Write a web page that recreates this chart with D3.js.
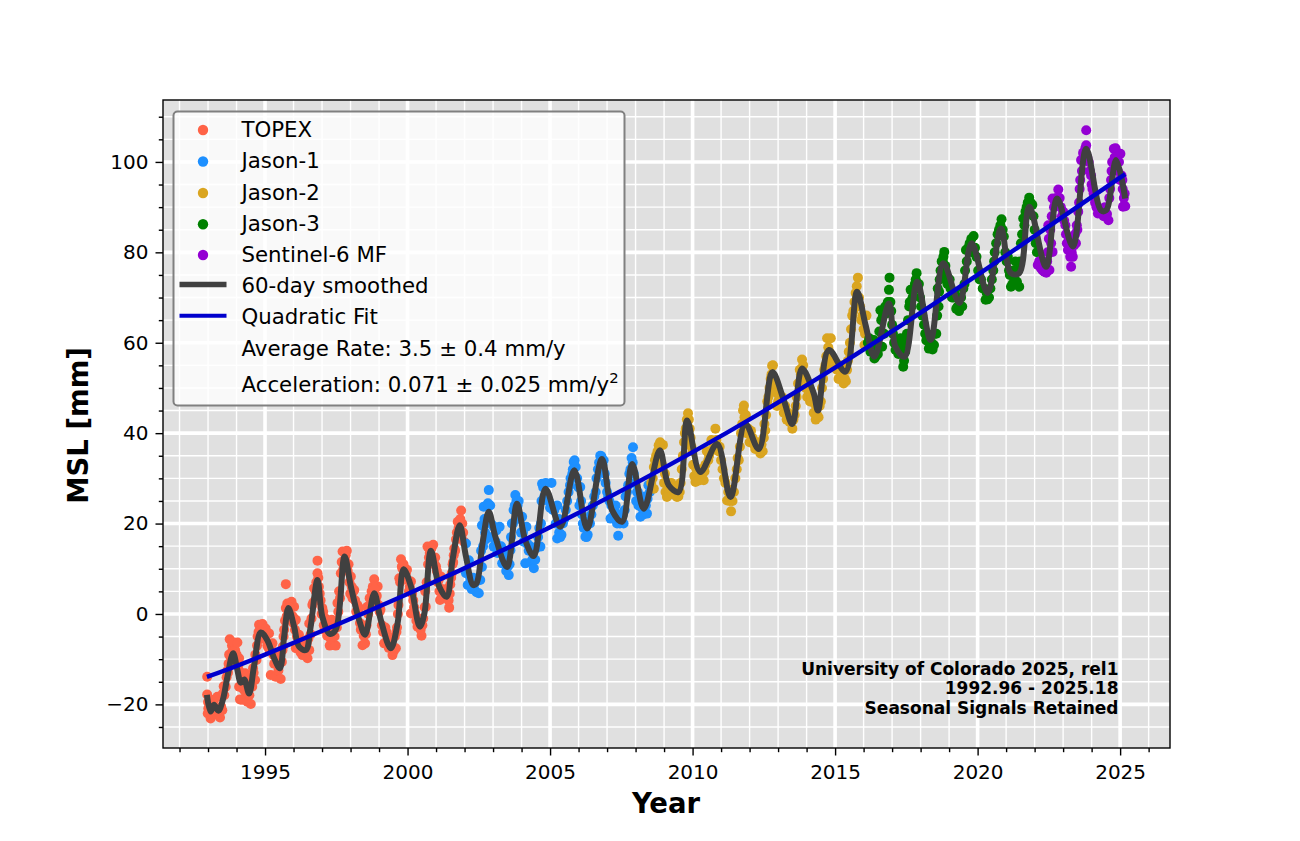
<!DOCTYPE html>
<html>
<head>
<meta charset="utf-8">
<title>Global mean sea level</title>
<script src="https://cdnjs.cloudflare.com/ajax/libs/d3/7.8.5/d3.min.js"></script>
<style>
  body { margin: 0; background: #fff; }
  text { font-family: "DejaVu Sans", sans-serif; fill: #000; }
</style>
</head>
<body>
<svg id="chart" width="1300" height="841"></svg>
<script>
// values: [year, msl in mm]
var topex = [[1992.97,-13.9],[1992.97,-17.8],[1993,-19.5],[1993.01,-20.9],[1993.05,-21.8],[1993.09,-23.1],[1993.12,-22],[1993.17,-20.5],[1993.21,-19],[1993.25,-21],[1993.29,-22.2],[1993.33,-18.3],[1993.37,-21],[1993.42,-22.9],[1993.46,-20.5],[1993.5,-21.3],[1993.52,-17.6],[1993.57,-18],[1993.62,-16.1],[1993.65,-14],[1993.68,-12.5],[1993.72,-11],[1993.76,-5.6],[1993.8,-8.7],[1993.84,-7],[1993.88,-6.3],[1993.92,-9],[1993.95,-8],[1993.99,-11],[1994.03,-6.3],[1994.06,-11.5],[1994.09,-9.8],[1994.09,-16.1],[1994.12,-18.9],[1994.16,-13],[1994.2,-19],[1994.24,-15],[1994.3,-13.1],[1994.33,-16.5],[1994.38,-19.4],[1994.42,-16],[1994.5,-19.9],[1994.52,-14.5],[1994.55,-16.1],[1994.6,-13],[1994.65,-14.6],[1994.66,-9],[1994.7,-10.2],[1994.74,-5],[1994.79,-2.4],[1994.83,-3.5],[1994.87,-5.5],[1994.91,-2.2],[1994.96,-4.5],[1995.02,-3.2],[1995.08,-7],[1995.14,-4.3],[1995.2,-13.5],[1995.22,-8],[1995.26,-6.5],[1995.32,-11],[1995.37,-13.9],[1995.42,-9.5],[1995.47,-12.5],[1995.55,-14.4],[1995.59,-10.6],[1995.63,-7.2],[1995.67,-3.5],[1995.7,-1.5],[1995.73,6.6],[1995.73,1.3],[1995.78,2.3],[1995.83,0.5],[1995.88,2.2],[1995.93,2.7],[1995.97,-0.5],[1996.02,1.6],[1996.08,-1.3],[1996.12,-5],[1996.19,-4.6],[1996.08,-7.6],[1996.25,-8.5],[1996.31,-9.1],[1996.38,-7],[1996.49,-9.8],[1996.55,-8],[1996.55,-2.1],[1996.6,-4.5],[1996.66,2],[1996.72,5.7],[1996.76,3],[1996.8,7],[1996.84,9],[1996.84,11.8],[1996.89,6],[1996.95,3],[1997.01,1.3],[1997.06,-2.5],[1997.12,-1],[1997.18,-4.8],[1997.27,-7],[1997.34,-1.3],[1997.4,-3],[1997.48,-7],[1997.44,-5],[1997.5,-1.5],[1997.54,2.4],[1997.6,5],[1997.66,9],[1997.69,11.5],[1997.72,13.8],[1997.8,12],[1997.87,14],[1997.9,9.5],[1997.96,7],[1998.01,8.3],[1998.07,3.5],[1998.13,5.3],[1998.2,0.5],[1998.3,1.3],[1998.36,-3.5],[1998.42,-6.9],[1998.46,-4.8],[1998.51,-6.5],[1998.56,-2.5],[1998.59,1.6],[1998.67,3.5],[1998.74,5],[1998.83,7.7],[1998.88,3],[1998.95,6.1],[1999.02,0.5],[1999.1,-2.5],[1999.18,-6.5],[1999.26,-4],[1999.34,-7.5],[1999.41,-6],[1999.47,-9.1],[1999.52,-8.2],[1999.59,-7.6],[1999.63,-3],[1999.68,2],[1999.71,7.9],[1999.77,12.1],[1999.82,10],[1999.9,8.5],[1999.98,9.8],[2000.05,5],[2000.12,7.2],[2000.12,0.1],[2000.2,3],[2000.27,0],[2000.35,-2.8],[2000.42,-1.5],[2000.49,-4.8],[2000.55,-1],[2000.64,1.6],[2000.67,7],[2000.7,14.9],[2000.78,13.5],[2000.9,15.3],[2000.95,11],[2001,10.5],[2001.06,7],[2001.14,3.1],[2001.17,8.3],[2001.25,5],[2001.33,4.5],[2001.46,1.4],[2001.41,3.5],[2001.5,6.5],[2001.55,9],[2001.6,11.5],[2001.64,14.5],[2001.7,16.5],[2001.76,20.4],[2001.81,18],[2001.88,22.9],[2001.92,20],[1992.99,-22],
  [1993.55,-16],[1993.7,-13],[1993.74,-9],[1993.86,-9],[1994,-9],[1994.14,-16],[1994.22,-16.5],[1994.28,-17],[1994.35,-15],[1994.45,-18],[1994.47,-15.5],[1994.58,-12],[1994.72,-7],[1994.77,-4],[1994.93,-4],[1995,-5.5],[1995.12,-7.5],[1995.18,-7.5],[1995.29,-9],[1995.4,-11],[1995.5,-10.5],[1995.61,-8],[1995.65,-5],[1995.76,-0.5],[1995.86,1.5],[1995.99,-2],[1996.05,-3.5],[1996.15,-7],[1996.22,-6],[1996.28,-7.5],[1996.34,-8.5],[1996.42,-9],[1996.46,-6.5],[1996.52,-5.5],[1996.63,-1],[1996.69,2.5],[1996.78,5],[1996.87,8],[1996.92,4.5],[1996.98,0],[1997.04,0.5],[1997.09,-3.5],[1997.15,-3],[1997.22,-3],[1997.3,-5.5],[1997.37,-5],[1997.52,-3],[1997.57,0.5],[1997.63,3.5],[1997.75,10],[1997.83,13],[1997.93,11],[1997.99,4.5],[1998.04,6],[1998.1,5],[1998.16,3],[1998.24,2],[1998.33,-2],[1998.39,-3],[1998.48,-4],[1998.54,-4.5],[1998.62,0],[1998.7,1.5],[1998.78,6],[1998.85,5.5],[1998.92,4],[1998.98,2],[1999.05,1],[1999.14,-4],[1999.22,-3],[1999.3,-5.5],[1999.38,-6.5],[1999.44,-7.5],[1999.55,-5],[1999.61,-4],[1999.66,0],[1999.74,7],[1999.8,10.5],[1999.86,11],[1999.94,9],[2000.01,7.5],[2000.08,6],[2000.16,4.5],[2000.23,1.5],[2000.31,-1.5],[2000.38,-1],[2000.46,-3.5],[2000.52,-2.5],[2000.6,1.5],[2000.62,5],[2000.72,11],[2000.75,12.5],[2000.84,14.5],[2000.87,12.5],[2000.97,12.5],[2001.03,9.5],[2001.09,7.5],[2001.12,5],[2001.2,5.5],[2001.29,4.5],[2001.37,5.5],[2001.44,3],[2001.48,4.5],[2001.53,8],[2001.58,11],[2001.62,13],[2001.67,14],[2001.73,18],[2001.79,19],[2001.85,21],[2001.95,18],[2001.98,16]];
var jason1 = [[2002.05,15.6],[2002.05,9],[2002.11,6.4],[2002.15,11.9],[2002.2,8],[2002.25,5.5],[2002.33,5.6],[2002.42,4.8],[2002.5,4.6],[2002.55,7.5],[2002.61,10.4],[2002.61,19.6],[2002.65,15],[2002.67,23.7],[2002.72,18],[2002.78,21],[2002.85,27.4],[2002.85,24],[2002.92,20],[2003,19.5],[2003.02,14.9],[2003.09,16],[2003.15,13.5],[2003.23,19.3],[2003.28,15],[2003.32,11.2],[2003.4,12.5],[2003.46,9.5],[2003.55,8.6],[2003.58,11],[2003.61,14.1],[2003.66,20],[2003.72,23],[2003.78,26.3],[2003.86,24],[2003.95,21],[2004.02,21.5],[2004.08,16],[2004.13,11.2],[2004.17,19.3],[2004.25,14],[2004.33,11.5],[2004.43,10.1],[2004.5,14.5],[2004.58,17],[2004.66,14.9],[2004.68,20],[2004.72,28.8],[2004.8,26],[2004.9,26],[2005.05,29],[2005.1,23],[2005.2,20],[2005.25,24],[2005.25,16.7],[2005.32,18],[2005.4,17.5],[2005.5,21],[2005.6,25],[2005.7,28.5],[2005.78,31],[2005.83,33.6],[2005.9,32.5],[2006,28],[2006.06,28.1],[2006.12,22],[2006.18,19],[2006.24,17.1],[2006.32,17.5],[2006.4,20],[2006.5,24],[2006.6,27],[2006.68,32],[2006.8,34.9],[2006.88,34],[2006.95,29],[2007,27],[2007.08,25],[2007.12,21.1],[2007.2,21.5],[2007.3,24],[2007.39,17.3],[2007.45,20],[2007.5,20.8],[2007.58,20],[2007.65,26],[2007.74,28.5],[2007.82,32],[2007.91,36.9],[2007.9,33.5],[2007.97,29],[2008.05,27],[2008.1,24],[2008.17,21.5],[2008.28,22],[2008.4,22.2],[2008.33,26],[2008.45,28.5],
  [2002.3,8],[2002.38,7],[2002.45,7.5],[2002.58,14],[2002.7,21],[2002.74,16.5],[2002.82,24.5],[2002.9,24],[2002.97,17],[2003.06,19],[2003.12,18.5],[2003.2,15],[2003.35,14],[2003.43,11],[2003.52,10.5],[2003.63,17],[2003.7,20],[2003.76,24],[2003.82,25],[2003.9,25],[2003.98,18],[2004.05,18],[2004.2,15.5],[2004.3,15],[2004.38,12],[2004.48,12],[2004.55,15],[2004.62,19],[2004.7,25],[2004.76,28],[2004.85,29],[2004.95,25],[2005,23.5],[2005.15,23],[2005.3,21],[2005.36,17],[2005.45,20],[2005.55,23],[2005.65,27],[2005.72,30],[2005.8,32],[2005.86,34],[2005.95,30],[2006.03,24],[2006.09,25],[2006.15,20],[2006.22,20],[2006.28,17],[2006.36,20.5],[2006.45,22],[2006.55,26],[2006.63,30],[2006.72,33.5],[2006.76,35],[2006.84,33],[2006.92,31],[2007.04,26],[2007.15,24],[2007.25,23],[2007.35,20],[2007.42,22],[2007.55,22],[2007.62,23],[2007.7,27],[2007.78,31],[2007.86,34.5],[2007.94,31],[2008.02,25],[2008.08,27],[2008.14,25],[2008.22,23.5],[2008.36,24],[2008.42,25.5],[2008.5,27]];
var jason2 = [[2008.55,29],[2008.64,27.7],[2008.64,32.5],[2008.72,35],[2008.81,37.3],[2008.96,37.4],[2008.92,33],[2009,29],[2009.05,27],[2009.1,25.9],[2009.2,27.5],[2009.3,26.5],[2009.45,25.9],[2009.55,27],[2009.62,32],[2009.7,38],[2009.76,41],[2009.84,44.4],[2009.9,41],[2009.96,37],[2010.02,33],[2010.1,29.2],[2010.17,31],[2010.25,30],[2010.39,29.6],[2010.45,33],[2010.55,34],[2010.62,36],[2010.72,38],[2010.8,41],[2010.9,36],[2011,34],[2011.1,30],[2011.21,25.1],[2011.3,25],[2011.35,22.7],[2011.45,27],[2011.55,32],[2011.62,34],[2011.7,40],[2011.8,46.1],[2011.82,43.5],[2011.95,41],[2012.05,40.5],[2012.15,37.5],[2012.25,37],[2012.32,36.2],[2012.42,37.5],[2012.5,39],[2012.55,40.6],[2012.62,47],[2012.7,50],[2012.79,54.9],[2012.84,52],[2012.92,49],[2013,47],[2013.08,46.5],[2013.2,44.5],[2013.3,43],[2013.4,42.5],[2013.5,41],[2013.58,44],[2013.65,48],[2013.76,54],[2013.84,56.3],[2013.93,52],[2014.02,48],[2014.12,47],[2014.25,44.5],[2014.32,43],[2014.42,43.5],[2014.5,47],[2014.58,52],[2014.66,55],[2014.72,61],[2014.85,61],[2014.92,56],[2015.02,55],[2015.12,52],[2015.22,53],[2015.3,51],[2015.38,51.5],[2015.45,56],[2015.52,60],[2015.6,66],[2015.68,69],[2015.76,72.5],[2015.8,74.4],[2015.84,70],[2015.92,65],[2016,63],[2016.03,59.5],[2016.1,66],
  [2008.6,30],[2008.68,34],[2008.77,36],[2008.86,38],[2009.03,31],[2009.13,28],[2009.25,29],[2009.35,27],[2009.4,28],[2009.5,26],[2009.58,29],[2009.66,35],[2009.73,40],[2009.8,43],[2009.87,43],[2009.93,39],[2010,36],[2010.06,30.5],[2010.13,32],[2010.2,29.5],[2010.3,32],[2010.35,31],[2010.42,31.5],[2010.5,36],[2010.58,35],[2010.66,38.5],[2010.76,37],[2010.84,38.5],[2010.95,37],[2011.05,32],[2011.15,29],[2011.25,27],[2011.33,27.5],[2011.4,25],[2011.5,30],[2011.58,34.5],[2011.66,37],[2011.74,42],[2011.77,45],[2011.87,44],[2011.9,40],[2012,38],[2012.1,39],[2012.2,36.5],[2012.28,38],[2012.38,35.5],[2012.46,36],[2012.52,42],[2012.58,44],[2012.66,48],[2012.74,52],[2012.77,53],[2012.82,55],[2012.88,51],[2012.96,46],[2013.04,48],[2013.14,48],[2013.25,46],[2013.35,44.5],[2013.45,44],[2013.54,43],[2013.62,46],[2013.7,51],[2013.8,53],[2013.88,55],[2013.97,50],[2014.08,49],[2014.18,48],[2014.28,46.5],[2014.37,44],[2014.46,46],[2014.54,50],[2014.62,54],[2014.69,57],[2014.76,59],[2014.8,58],[2014.88,56.5],[2014.97,54.5],[2015.07,54],[2015.17,54],[2015.26,55],[2015.34,52],[2015.42,54],[2015.48,58],[2015.56,63],[2015.64,67],[2015.72,71],[2015.78,70],[2015.88,68],[2015.96,66],[2016.05,62]];
var jason3 = [[2016.2,61],[2016.28,58.5],[2016.36,60.6],[2016.38,56.5],[2016.5,57.5],[2016.59,67.2],[2016.65,59.1],[2016.72,62],[2016.8,66.5],[2016.85,69],[2016.89,71.7],[2016.91,74.4],[2016.97,67],[2017.03,62],[2017.12,58.4],[2017.22,57.5],[2017.3,61],[2017.39,54.7],[2017.46,58],[2017.52,62],[2017.6,68],[2017.65,71.7],[2017.72,70],[2017.8,73],[2017.86,75.4],[2017.94,73],[2018.02,68],[2018.12,64],[2018.2,60.5],[2018.29,58.7],[2018.38,60],[2018.47,59.5],[2018.55,62],[2018.6,72],[2018.65,71.3],[2018.7,76],[2018.78,78],[2018.83,80.1],[2018.9,75],[2018.98,74],[2019.05,72],[2019.15,70],[2019.3,68],[2019.42,70],[2019.5,72],[2019.56,76],[2019.59,80.5],[2019.72,82],[2019.86,83.6],[2019.96,79],[2020.07,74],[2020.18,72],[2020.28,69.5],[2020.35,69.6],[2020.45,72],[2020.55,76],[2020.6,80],[2020.7,84],[2020.84,87.3],[2020.92,83.5],[2021.02,78],[2021.1,76],[2021.17,72.4],[2021.3,74],[2021.33,78],[2021.46,72.4],[2021.52,82],[2021.6,87.5],[2021.68,89],[2021.81,92.1],[2021.92,90.5],[2022,85],[2022.08,80],
  [2016.15,60],[2016.24,58],[2016.32,58],[2016.43,57],[2016.47,59.5],[2016.55,62.5],[2016.62,65],[2016.68,66],[2016.76,68],[2016.82,68],[2016.94,69],[2017,64],[2017.07,60],[2017.16,60],[2017.26,59.5],[2017.34,59],[2017.42,56],[2017.49,60],[2017.56,65],[2017.62,69],[2017.68,68],[2017.76,72],[2017.83,74],[2017.9,72],[2017.98,70],[2018.06,66],[2018.16,62],[2018.24,61],[2018.33,59],[2018.42,58.5],[2018.5,62],[2018.58,66],[2018.63,68],[2018.67,74],[2018.74,78],[2018.8,79],[2018.87,77],[2018.94,73],[2019.02,74],[2019.1,70],[2019.2,71],[2019.25,67.5],[2019.35,67],[2019.46,68],[2019.54,73],[2019.62,78],[2019.67,81],[2019.78,83],[2019.82,80],[2019.91,81],[2020.02,76],[2020.12,74],[2020.23,72],[2020.32,71],[2020.4,70],[2020.5,74],[2020.58,78],[2020.65,82],[2020.75,85],[2020.8,86],[2020.88,85],[2020.97,80],[2021.06,79],[2021.13,75],[2021.22,73],[2021.26,76],[2021.38,73.5],[2021.42,76],[2021.49,78],[2021.56,84],[2021.64,86],[2021.72,90],[2021.76,91],[2021.86,91],[2021.96,88],[2022.04,82]];
var sentinel6 = [[2022.11,77.2],[2022.28,76],[2022.34,75.7],[2022.44,78],[2022.52,76.1],[2022.58,82],[2022.63,80.1],[2022.48,86],[2022.63,91.9],[2022.72,91],[2022.83,93.9],[2022.92,90],[2023,89],[2023.08,86],[2023.13,82],[2023.22,83],[2023.28,76.8],[2023.34,79],[2023.42,84],[2023.48,86],[2023.53,89],[2023.58,94],[2023.63,100.4],[2023.7,102],[2023.81,103.7],[2023.81,107],[2023.9,100],[2023.98,97],[2024.03,94],[2024.12,91],[2024.22,88.6],[2024.33,89],[2024.42,88],[2024.59,87.1],[2024.62,92],[2024.68,96],[2024.72,100],[2024.78,102.9],[2024.84,103],[2024.92,98],[2025.01,101.8],[2025.05,97],[2025.09,94],[2025.1,90.1],[2025.18,90.2],[2025.16,93],
  [2022.16,78],[2022.22,76.5],[2022.38,76],[2022.41,75.5],[2022.46,80],[2022.5,83],[2022.55,85],[2022.6,88],[2022.68,90],[2022.76,92],[2022.8,91],[2022.88,92],[2022.96,88],[2023.04,87],[2023.1,84],[2023.17,80.5],[2023.25,79],[2023.3,80],[2023.38,81.5],[2023.45,82],[2023.5,85],[2023.56,91],[2023.6,96],[2023.66,98],[2023.74,102],[2023.78,103],[2023.85,101],[2023.94,98],[2024,95],[2024.07,93],[2024.17,90],[2024.27,89.5],[2024.38,89],[2024.47,90],[2024.54,88.5],[2024.65,94],[2024.7,98],[2024.76,100],[2024.81,101],[2024.88,100.5],[2024.96,100],[2024.99,96],[2025.08,96],[2025.13,92],[2025.14,90.3]];
var smoothed = [[1992.96,-17.9],[1993.09,-21.6],[1993.21,-20.1],[1993.36,-21.4],[1993.52,-19],[1993.68,-13.9],[1993.88,-8.7],[1994.03,-12.4],[1994.15,-15.2],[1994.27,-14.5],[1994.44,-17.6],[1994.61,-11.7],[1994.85,-4.1],[1995.08,-5.8],[1995.32,-9.8],[1995.52,-12],[1995.67,-5],[1995.82,1.3],[1996.02,-2.8],[1996.19,-7.2],[1996.43,-8],[1996.6,-2.8],[1996.84,7.5],[1997.01,-0.6],[1997.27,-4.4],[1997.48,-3.5],[1997.79,12.7],[1998.01,6.1],[1998.3,-1.3],[1998.51,-4.6],[1998.83,4.6],[1999.06,-1.3],[1999.41,-7.6],[1999.65,-2.1],[1999.86,9.9],[2000.12,6.1],[2000.43,-2.8],[2000.59,0.1],[2000.82,14],[2001.11,6.1],[2001.37,3.8],[2001.58,12],[2001.83,19.6],[2002.05,12.7],[2002.3,6.4],[2002.42,6.8],[2002.63,15.6],[2002.85,22.6],[2003.08,17.1],[2003.49,10.4],[2003.84,24.4],[2004.13,16.3],[2004.43,12.8],[2004.84,27.7],[2005.36,19.3],[2005.85,31.8],[2006.3,18.9],[2006.82,34.3],[2007.18,22.9],[2007.53,20.4],[2007.88,33.2],[2008.29,23.3],[2008.85,36.2],[2009.16,28.5],[2009.51,27],[2009.81,42.8],[2010.27,31.4],[2010.86,37.6],[2011.33,25.9],[2011.85,42.1],[2012.32,36.5],[2012.8,53.5],[2013.2,47.3],[2013.5,42],[2013.84,54.3],[2014.25,48.8],[2014.4,45],[2014.78,58.4],[2015.36,53.6],[2015.77,71.3],[2016.07,63.9],[2016.38,56.9],[2016.89,68.7],[2017.12,59.1],[2017.44,56.9],[2017.88,73.5],[2018.35,60.6],[2018.8,77.6],[2019.36,68.8],[2019.79,82],[2020.35,71],[2020.82,85.3],[2021.17,75.4],[2021.46,75.4],[2021.81,90.1],[2022.4,76.8],[2022.79,91.9],[2023.34,81.3],[2023.81,102.9],[2024.33,89.3],[2024.51,89.3],[2024.86,100.4],[2025.18,91.9]];
var fit = [[1992.96,-13.9],[1995,-9],[2000,4.4],[2005,19.2],[2010,35.8],[2015,54.5],[2020,75],[2025.18,97.3]];

var xTicks = [1995, 2000, 2005, 2010, 2015, 2020, 2025];
var xMinor = d3.range(1992, 2027);
var yTicks = [-20, 0, 20, 40, 60, 80, 100];
var yMinor = d3.range(-25, 115, 5);

var satellites = [
  { name: 'TOPEX', color: 'tomato', values: topex },
  { name: 'Jason-1', color: 'dodgerblue', values: jason1 },
  { name: 'Jason-2', color: 'goldenrod', values: jason2 },
  { name: 'Jason-3', color: 'green', values: jason3 },
  { name: 'Sentinel-6 MF', color: 'darkviolet', values: sentinel6 }
];

var plotLeft = 163, plotRight = 1170, plotTop = 100, plotBottom = 748;
var tickFont = 20, legendFont = 21.3;

var x = d3.scaleLinear().domain([1991.42, 2026.75]).range([plotLeft, plotRight]);
var y = d3.scaleLinear().domain([-29.65, 113.7]).range([plotBottom, plotTop]);

var svg = d3.select('#chart');

svg.append('rect')
  .attr('x', plotLeft).attr('y', plotTop)
  .attr('width', plotRight - plotLeft).attr('height', plotBottom - plotTop)
  .attr('fill', '#e0e0e0');

// grid
var grid = svg.append('g').attr('stroke', '#fff').attr('fill', 'none');
function vLines(values, w) {
  grid.selectAll(null).data(values).enter().append('line')
    .attr('x1', x).attr('x2', x).attr('y1', plotTop).attr('y2', plotBottom)
    .attr('stroke-width', w);
}
function hLines(values, w) {
  grid.selectAll(null).data(values).enter().append('line')
    .attr('x1', plotLeft).attr('x2', plotRight).attr('y1', y).attr('y2', y)
    .attr('stroke-width', w);
}
vLines(xMinor, 1.4);
hLines(yMinor, 1.4);
vLines(xTicks, 3.6);
hLines(yTicks, 3.6);

// points
var dots = svg.append('g');
satellites.forEach(function(s) {
  dots.append('g').attr('fill', s.color)
    .selectAll('circle').data(s.values).enter().append('circle')
    .attr('cx', function(d) { return x(d[0]); })
    .attr('cy', function(d) { return y(d[1]); })
    .attr('r', 5);
});

var line = d3.line()
  .x(function(d) { return x(d[0]); })
  .y(function(d) { return y(d[1]); });

svg.append('path')
  .datum(smoothed)
  .attr('d', line.curve(d3.curveCatmullRom.alpha(0.5)))
  .attr('fill', 'none').attr('stroke', '#404040')
  .attr('stroke-width', 6).attr('stroke-linejoin', 'round');

svg.append('path')
  .datum(fit)
  .attr('d', line.curve(d3.curveNatural))
  .attr('fill', 'none').attr('stroke', 'mediumblue')
  .attr('stroke-width', 4.4);

// frame and axes
svg.append('rect')
  .attr('x', plotLeft).attr('y', plotTop)
  .attr('width', plotRight - plotLeft).attr('height', plotBottom - plotTop)
  .attr('fill', 'none').attr('stroke', '#000').attr('stroke-width', 1.4);

svg.append('g').attr('transform', 'translate(0,' + plotBottom + ')')
  .call(d3.axisBottom(x).tickValues(xTicks).tickFormat(d3.format('d')).tickSize(7.5).tickPadding(9));
svg.append('g').attr('transform', 'translate(0,' + plotBottom + ')')
  .call(d3.axisBottom(x).tickValues(xMinor.filter(function(d) { return xTicks.indexOf(d) < 0; })).tickFormat('').tickSize(4.2));
svg.append('g').attr('transform', 'translate(' + plotLeft + ',0)')
  .call(d3.axisLeft(y).tickValues(yTicks).tickSize(7.5).tickPadding(7));
svg.append('g').attr('transform', 'translate(' + plotLeft + ',0)')
  .call(d3.axisLeft(y).tickValues(yMinor.filter(function(d) { return yTicks.indexOf(d) < 0; })).tickFormat('').tickSize(4.2));

svg.selectAll('.domain').remove();
svg.selectAll('.tick line').attr('stroke', '#000').attr('stroke-width', 1.4);
svg.selectAll('.tick text').attr('font-size', tickFont).attr('font-family', '"DejaVu Sans", sans-serif');

svg.append('text').text('Year')
  .attr('x', 666).attr('y', 813)
  .attr('text-anchor', 'middle').attr('font-size', 27.5).attr('font-weight', 'bold');

svg.append('text').text('MSL [mm]')
  .attr('transform', 'translate(88,425.5) rotate(-90)')
  .attr('text-anchor', 'middle').attr('font-size', 27.5).attr('font-weight', 'bold');

// note, bottom right
var note = ['University of Colorado 2025, rel1', '1992.96 - 2025.18', 'Seasonal Signals Retained'];
svg.append('g').selectAll('text').data(note).enter().append('text')
  .text(function(d) { return d; })
  .attr('x', 1118.5)
  .attr('y', function(d, i) { return 675 + i * 19.4; })
  .attr('text-anchor', 'end').attr('font-size', 17).attr('font-weight', 'bold');

// legend
var legend = svg.append('g');
legend.append('rect')
  .attr('x', 173.5).attr('y', 111.5).attr('width', 451).attr('height', 294).attr('rx', 4)
  .attr('fill', '#fff').attr('fill-opacity', 0.8)
  .attr('stroke', '#808080').attr('stroke-width', 2);

var rowY = [136.5, 168, 199.5, 230.7, 261.5, 293, 324.3, 355.5];
var rowText = satellites.map(function(s) { return s.name; })
  .concat(['60-day smoothed', 'Quadratic Fit', 'Average Rate: 3.5 \u00b1 0.4 mm/y']);

legend.selectAll('text.row').data(rowText).enter().append('text')
  .attr('class', 'row')
  .text(function(d) { return d; })
  .attr('x', 241.5)
  .attr('y', function(d, i) { return rowY[i]; })
  .attr('font-size', legendFont);

var accel = legend.append('text').attr('x', 241.5).attr('y', 391.5).attr('font-size', legendFont);
accel.append('tspan').text('Acceleration: 0.071 \u00b1 0.025 mm/y');
accel.append('tspan').text('2').attr('font-size', 14.8).attr('dy', -8.5);

legend.selectAll('circle').data(satellites).enter().append('circle')
  .attr('cx', 203)
  .attr('cy', function(d, i) { return rowY[i] - 6.5; })
  .attr('r', 5.2)
  .attr('fill', function(d) { return d.color; });

[['#404040', 5.5, 5], ['mediumblue', 4, 6]].forEach(function(k) {
  legend.append('line')
    .attr('x1', 179.5).attr('x2', 226.5)
    .attr('y1', rowY[k[2]] - 8.5).attr('y2', rowY[k[2]] - 8.5)
    .attr('stroke', k[0]).attr('stroke-width', k[1]);
});
</script>
</body>
</html>
